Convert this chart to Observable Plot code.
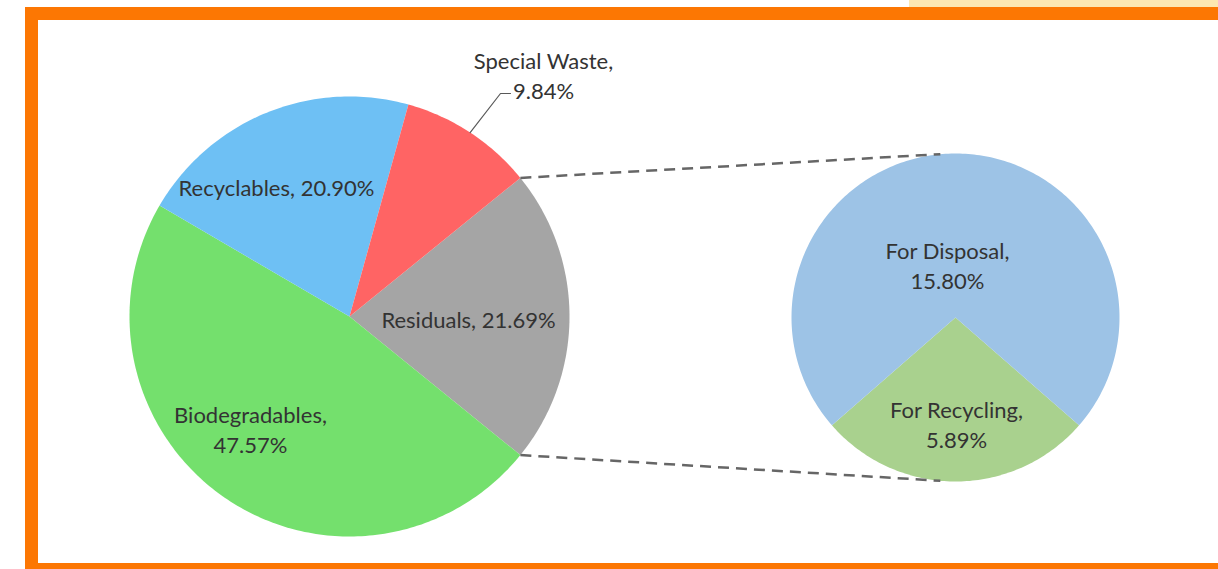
<!DOCTYPE html>
<html><head><meta charset="utf-8">
<script src="https://cdn.jsdelivr.net/npm/d3@7"></script>
<script src="https://cdn.jsdelivr.net/npm/@observablehq/plot@0.6"></script>
<style>body{margin:0;background:#fff;overflow:hidden;} svg{display:block;}</style>
</head><body><div id="chart"></div>
<script>
// ---- data ----
const mainCategories = ["Residuals", "Biodegradables", "Recyclables", "Special Waste"];
const mainValues = [21.69, 47.57, 20.90, 9.84];
const mainColors = ["#A5A5A5", "#74E06D", "#6EC0F4", "#FF6464"];
const subCategories = ["For Recycling", "For Disposal"];
const subValues = [5.89, 15.80];
const subColors = ["#A9D18E", "#9DC3E6"];

// ---- layout ----
const W = 1218, H = 569;
const main = {cx: 349, cy: 316, r: 220};
const sub = {cx: 955, cy: 317, r: 164};
const labelPos = {
  "Residuals": {x: 468, y: 318, wrap: false},
  "Biodegradables": {x: 250, y: 428, wrap: true},
  "Recyclables": {x: 276, y: 186, wrap: false},
  "Special Waste": {x: 543, y: 74, wrap: true},
  "For Disposal": {x: 947, y: 264, wrap: true},
  "For Recycling": {x: 956, y: 423, wrap: true}
};
const leaderElbow = [{x: 500, y: 93}, {x: 510, y: 93}];
const subConnectorAngle = 5.3;

const rad = d => d * Math.PI / 180;
const pt = (c, r, a) => ({x: c.cx + r * Math.sin(rad(a)), y: c.cy - r * Math.cos(rad(a))});

function slices(cats, vals, cols, start, total) {
  let a = start;
  return cats.map((name, i) => {
    const span = vals[i] / total * 360;
    const s = {name, value: vals[i], color: cols[i], a0: a, a1: a + span};
    a += span;
    return s;
  });
}
const mainTotal = d3.sum(mainValues);
const mainSlices = slices(mainCategories, mainValues, mainColors, 90 - mainValues[0] / mainTotal * 360 / 2, mainTotal);
const subTotal = d3.sum(subValues);
const subSlices = slices(subCategories, subValues, subColors, 180 - subValues[0] / subTotal * 360 / 2, subTotal);

function polygonPoints(list, c) {
  const pts = [];
  for (const s of list) {
    pts.push({key: s.name, color: s.color, ...pt(c, 0, 0)});
    const n = Math.max(2, Math.ceil(s.a1 - s.a0));
    for (let k = 0; k <= n; k++) {
      pts.push({key: s.name, color: s.color, ...pt(c, c.r, s.a0 + (s.a1 - s.a0) * k / n)});
    }
    pts.push({key: s.name, color: s.color, ...pt(c, 0, 0)});
  }
  return pts;
}
const piePts = [...polygonPoints(mainSlices, main), ...polygonPoints(subSlices, sub)];

const labels = [...mainSlices, ...subSlices].map(s => {
  const p = labelPos[s.name];
  const txt = `${s.name},${p.wrap ? "\n" : " "}${s.value.toFixed(2)}%`;
  return {x: p.x, y: p.y, text: txt};
});

const resid = mainSlices[0];
const seg = (a, b) => ({x1: a.x, y1: a.y, x2: b.x, y2: b.y});
const connectors = [
  seg(pt(main, main.r, resid.a0), pt(sub, sub.r, -subConnectorAngle)),
  seg(pt(main, main.r, resid.a1), pt(sub, sub.r, 180 + subConnectorAngle))
];

const sw = mainSlices.find(s => s.name === "Special Waste");
const leader = [pt(main, main.r, (sw.a0 + sw.a1) / 2), ...leaderElbow];

const chart = Plot.plot({
  width: W, height: H,
  margin: 0,
  x: {domain: [0, W], range: [0, W], axis: null},
  y: {domain: [0, H], range: [0, H], axis: null},
  color: {type: "identity"},
  style: {background: "#ffffff"},
  marks: [
    Plot.rect([{x1: 909, x2: W, y1: 0, y2: 7}], {x1: "x1", x2: "x2", y1: "y1", y2: "y2", fill: "#FCE7B2"}),
    Plot.rect([{x1: 31.5, x2: 1240, y1: 13.5, y2: 569.5}], {x1: "x1", x2: "x2", y1: "y1", y2: "y2", fill: "none", stroke: "#FC7703", strokeWidth: 13}),
    Plot.line(piePts, {x: "x", y: "y", z: "key", fill: "color", stroke: "none", curve: "linear"}),
    Plot.link(connectors, {x1: "x1", y1: "y1", x2: "x2", y2: "y2", stroke: "#666666", strokeWidth: 2.5, strokeDasharray: "11,7"}),
    Plot.line(leader, {x: "x", y: "y", stroke: "#595959", strokeWidth: 1.2}),
    Plot.text(labels, {x: "x", y: "y", text: "text", fill: "#333333", fontSize: 22, fontFamily: "Lato", lineHeight: 1.36, textAnchor: "middle"})
  ]
});
document.getElementById("chart").append(chart);
</script>
</body></html>
